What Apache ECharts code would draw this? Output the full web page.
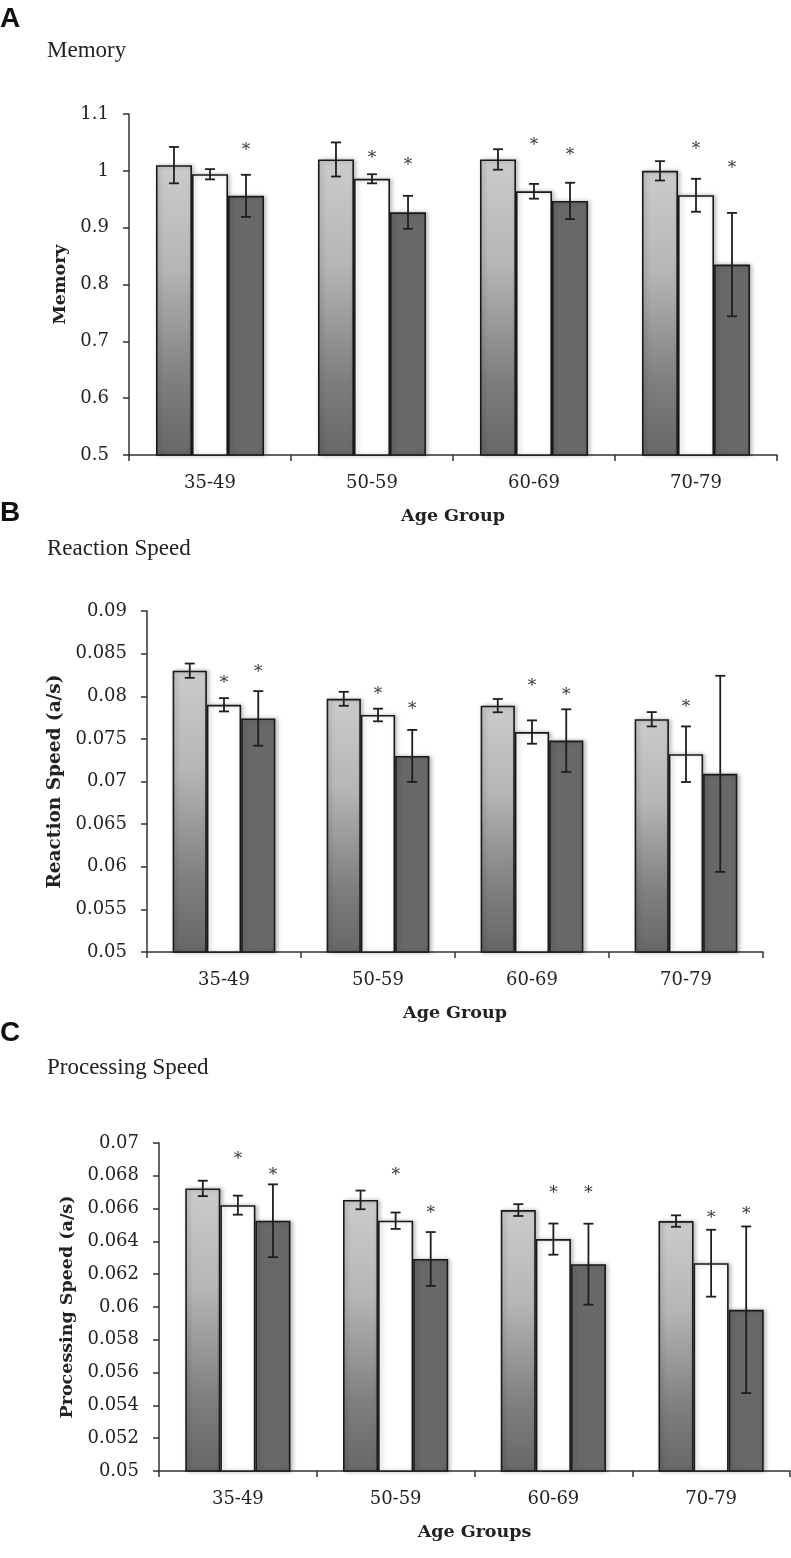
<!DOCTYPE html>
<html>
<head>
<meta charset="utf-8">
<script src="https://cdn.jsdelivr.net/npm/echarts@6/dist/echarts.min.js"></script>
<style>
html,body{margin:0;padding:0;background:#fff;}
#chart{width:791px;height:1558px;}
</style>
</head>
<body>
<div id="chart"></div>
<script>
// ---------- DATA ----------
const categories = ['35-49', '50-59', '60-69', '70-79'];

// Panel A: Memory
const memGray = [1.010, 1.020, 1.020, 1.000];
const memGrayErr = [0.032, 0.030, 0.018, 0.017];
const memWhite = [0.994, 0.986, 0.964, 0.957];
const memWhiteErr = [0.009, 0.008, 0.013, 0.029];
const memDark = [0.956, 0.927, 0.947, 0.835];
const memDarkErr = [0.037, 0.029, 0.032, 0.091];
const memStarWhite = [null, 1.028, 1.051, 1.044];
const memStarDark = [1.043, 1.016, 1.034, 1.011];
const memTicks = [0.5, 1.1, 0.1];

// Panel B: Reaction Speed
const rtGray = [0.0830, 0.0797, 0.0789, 0.0773];
const rtGrayErr = [0.00084, 0.00082, 0.00078, 0.00084];
const rtWhite = [0.0790, 0.0778, 0.0758, 0.0732];
const rtWhiteErr = [0.00078, 0.00074, 0.00137, 0.00326];
const rtDark = [0.0774, 0.0730, 0.0748, 0.0709];
const rtDarkErr = [0.0032, 0.00305, 0.00367, 0.0115];
const rtStarWhite = [0.0819, 0.0807, 0.0816, 0.0791];
const rtStarDark = [0.0833, 0.0789, 0.0806, null];
const rtTicks = [0.05, 0.09, 0.005];

// Panel C: Processing Speed
const psGray = [0.06723, 0.06653, 0.06591, 0.06524];
const psGrayErr = [0.00047, 0.00057, 0.00036, 0.00035];
const psWhite = [0.06621, 0.06526, 0.06414, 0.06267];
const psWhiteErr = [0.00058, 0.00050, 0.00095, 0.00204];
const psDark = [0.06526, 0.06293, 0.06261, 0.05983];
const psDarkErr = [0.00222, 0.00164, 0.00247, 0.00508];
const psStarWhite = [0.06925, 0.06824, 0.06717, 0.06566];
const psStarDark = [0.06824, 0.06595, 0.06717, 0.06587];
const psTicks = [0.05, 0.07, 0.002];

// ---------- STYLE / LAYOUT ----------
const serif = 'DejaVu Serif';
const CAT_GAP = 0.333;
const panels = [
  {letter:'A', title:'Memory', yName:'Memory', xName:'Age Group',
   grid:{left:129, right:14, top:114, height:341}, yNameGap:56, yNameSize:17.5,
   bars:[memGray, memWhite, memDark], errs:[memGrayErr, memWhiteErr, memDarkErr],
   stars:[null, memStarWhite, memStarDark], ticks:memTicks,
   letterTop:5, titleTop:39},
  {letter:'B', title:'Reaction Speed', yName:'Reaction Speed (a/s)', xName:'Age Group',
   grid:{left:147, right:28, top:611, height:341}, yNameGap:79, yNameSize:18.5,
   bars:[rtGray, rtWhite, rtDark], errs:[rtGrayErr, rtWhiteErr, rtDarkErr],
   stars:[null, rtStarWhite, rtStarDark], ticks:rtTicks,
   letterTop:499, titleTop:537},
  {letter:'C', title:'Processing Speed', yName:'Processing Speed (a/s)', xName:'Age Groups',
   grid:{left:159, right:1, top:1143, height:328}, yNameGap:79, yNameSize:17.5,
   bars:[psGray, psWhite, psDark], errs:[psGrayErr, psWhiteErr, psDarkErr],
   stars:[null, psStarWhite, psStarDark], ticks:psTicks,
   letterTop:1019, titleTop:1056}
];

const grayGrad = new echarts.graphic.LinearGradient(0, 0, 0, 1, [
  {offset:0, color:'#cbcbcb'},
  {offset:0.35, color:'#b6b6b6'},
  {offset:0.75, color:'#7e7e7e'},
  {offset:1, color:'#676767'}
]);
const fills = [grayGrad, '#ffffff', '#686868'];

const option = {
  backgroundColor:'#ffffff',
  animation:false,
  title:[], grid:[], xAxis:[], yAxis:[], series:[]
};

function fmt(v){ return String(+v.toFixed(4)); }

panels.forEach((p, gi) => {
  option.title.push({text:p.letter, left:0, top:p.letterTop, padding:0,
    textStyle:{fontFamily:'Liberation Sans', fontWeight:'bold', fontSize:28, color:'#111'}});
  option.title.push({text:p.title, left:47, top:p.titleTop, padding:0,
    textStyle:{fontFamily:'Liberation Serif', fontWeight:'normal', fontSize:23, color:'#222'}});
  option.grid.push(p.grid);
  option.xAxis.push({
    type:'category', gridIndex:gi, data:categories,
    name:p.xName, nameLocation:'middle', nameGap:52,
    nameTextStyle:{fontFamily:serif, fontWeight:'bold', fontSize:17.5, color:'#222'},
    axisLine:{lineStyle:{color:'#333', width:1.5}},
    axisTick:{show:true, length:6, lineStyle:{color:'#333', width:1.5}},
    axisLabel:{fontFamily:serif, fontSize:18, color:'#222', margin:19}
  });
  option.yAxis.push({
    type:'value', gridIndex:gi, min:p.ticks[0], max:p.ticks[1], interval:p.ticks[2],
    name:p.yName, nameLocation:'middle', nameGap:p.yNameGap, nameRotate:90,
    nameTextStyle:{fontFamily:serif, fontWeight:'bold', fontSize:p.yNameSize, color:'#222'},
    axisLine:{show:true, lineStyle:{color:'#333', width:1.5}},
    axisTick:{show:true, length:6, lineStyle:{color:'#333', width:1.5}},
    splitLine:{show:false},
    axisLabel:{fontFamily:serif, fontSize:18, color:'#222', margin:20, formatter:fmt}
  });
  p.bars.forEach((vals, k) => {
    option.series.push({
      type:'bar', xAxisIndex:gi, yAxisIndex:gi, data:vals,
      barGap:'0%', barCategoryGap:(CAT_GAP*100)+'%', z:2,
      itemStyle:{color:fills[k], borderColor:'#1a1a1a', borderWidth:1.6,
        shadowColor:'rgba(0,0,0,0.25)', shadowBlur:4, shadowOffsetX:2}
    });
  });
  // error bars
  const errData = [];
  p.bars.forEach((vals, k) => {
    vals.forEach((v, ci) => errData.push([ci, v, p.errs[k][ci], k]));
  });
  option.series.push({
    type:'custom', xAxisIndex:gi, yAxisIndex:gi, z:5, data:errData,
    renderItem:function(params, api){
      const ci = api.value(0), v = api.value(1), e = api.value(2), k = api.value(3);
      const catW = api.size([1, 0])[0];
      const bw = catW * (1 - CAT_GAP) / 3;
      const x = api.coord([ci, v])[0] + (k - 1) * bw;
      const yTop = api.coord([ci, v + e])[1];
      const yBot = api.coord([ci, v - e])[1];
      const cap = 5;
      const st = {stroke:'#1e1e1e', lineWidth:1.8};
      return {type:'group', children:[
        {type:'line', shape:{x1:x, y1:yTop, x2:x, y2:yBot}, style:st},
        {type:'line', shape:{x1:x-cap, y1:yTop, x2:x+cap, y2:yTop}, style:st},
        {type:'line', shape:{x1:x-cap, y1:yBot, x2:x+cap, y2:yBot}, style:st}
      ]};
    }
  });
  // significance stars
  const starData = [];
  p.stars.forEach((vals, k) => {
    if (!vals) return;
    vals.forEach((v, ci) => { if (v !== null) starData.push([ci, v, k]); });
  });
  option.series.push({
    type:'custom', xAxisIndex:gi, yAxisIndex:gi, z:6, data:starData,
    renderItem:function(params, api){
      const ci = api.value(0), v = api.value(1), k = api.value(2);
      const catW = api.size([1, 0])[0];
      const bw = catW * (1 - CAT_GAP) / 3;
      const pt = api.coord([ci, v]);
      return {type:'text', style:{text:'*', x:pt[0] + (k - 1) * bw, y:pt[1] + 4,
        align:'center', verticalAlign:'middle', fill:'#333',
        font:'17px "DejaVu Serif"'}};
    }
  });
});

const chart = echarts.init(document.getElementById('chart'), null, {renderer:'canvas'});
chart.setOption(option);
</script>
</body>
</html>
